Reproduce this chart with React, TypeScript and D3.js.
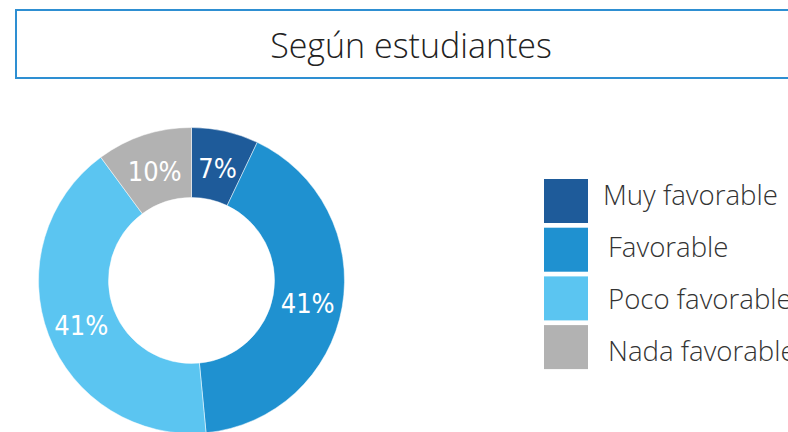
import React from "react";
import * as d3 from "d3";

const categories = ["Muy favorable", "Favorable", "Poco favorable", "Nada favorable"];
const values = [7, 41, 41, 10];
const labels = ["7%", "41%", "41%", "10%"];
const colors = ["#1e5b9a", "#1f91d0", "#5bc5f1", "#b2b2b2"];
const title = "Según estudiantes";

export default function App() {
  const W = 788, H = 432;
  const cx = 191.5, cy = 280.5, rOut = 153, rIn = 83;
  const pie = d3.pie<number>().sort(null).value((d) => d)(values);
  const arc = d3.arc<d3.PieArcDatum<number>>().innerRadius(rIn).outerRadius(rOut);
  const legendX = 544, legendY = 179, step = 48.7, sq = 44;
  const textY0 = 205, textStep = 52;
  return (
    <svg width={W} height={H} style={{ position: "absolute", left: 0, top: 0, background: "#fff" }}>
      <rect x={16} y={10} width={800} height={68} fill="#fff" stroke="#2e8fd2" strokeWidth={2} />
      <text x={411} y={58} textAnchor="middle" fontFamily="'Open Sans', sans-serif" fontWeight={300} fontSize={34} fill="#222">
        {title}
      </text>
      <g transform={`translate(${cx},${cy})`}>
        {pie.map((p, i) => (
          <path key={i} d={arc(p) || ""} fill={colors[i]} stroke="#fff" strokeWidth={0.5} />
        ))}
        {pie.map((p, i) => {
          const [x, y] = arc.centroid(p);
          return (
            <text key={"l" + i} x={x} y={y} dy="0.45em" textAnchor="middle" fill="#fff"
              fontFamily="'DejaVu Sans Condensed', 'DejaVu Sans', sans-serif" fontSize={27}>
              {labels[i]}
            </text>
          );
        })}
      </g>
      {categories.map((c, i) => (
        <g key={c}>
          <rect x={legendX} y={legendY + i * step} width={sq} height={sq} fill={colors[i]} />
          <text x={legendX + (i === 0 ? 59 : 64)} y={textY0 + i * textStep} fontFamily="'Open Sans', sans-serif" fontWeight={300} fontSize={27.6} fill="#333">
            {c}
          </text>
        </g>
      ))}
    </svg>
  );
}
